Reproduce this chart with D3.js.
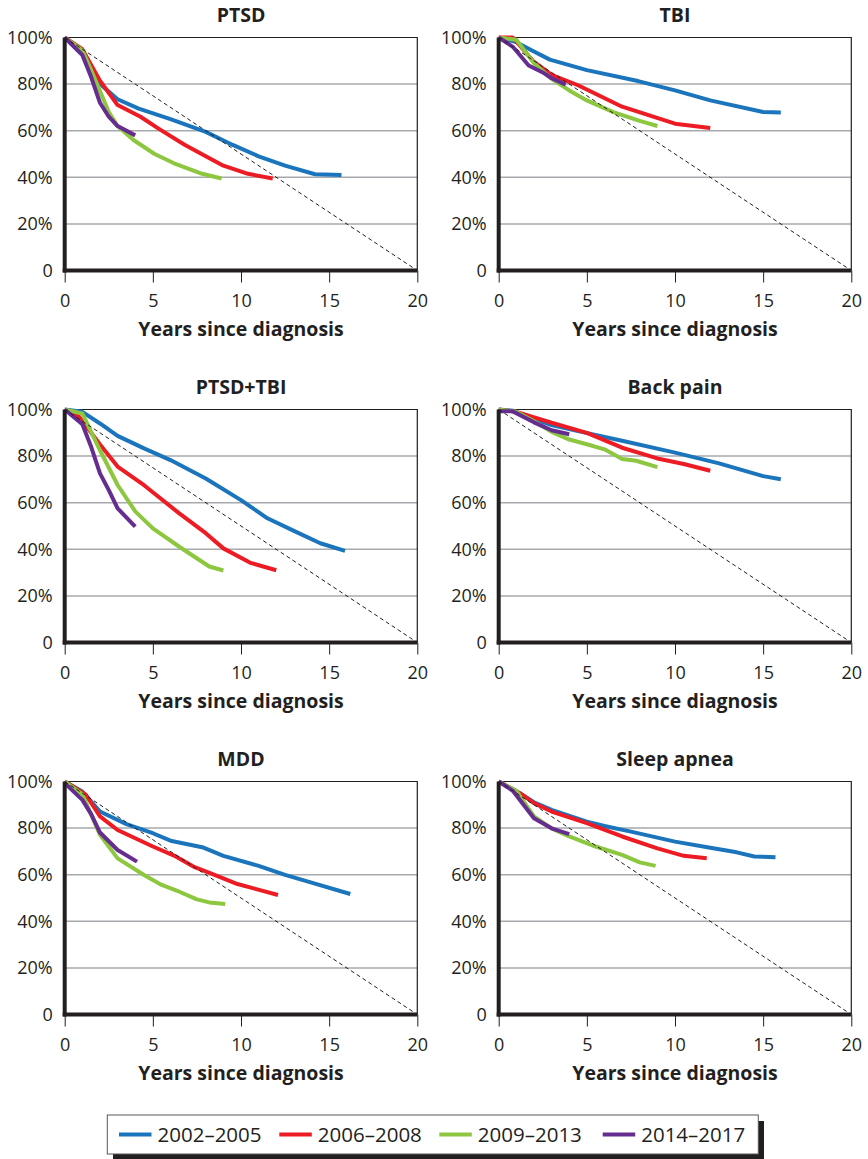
<!DOCTYPE html>
<html>
<head>
<meta charset="utf-8">
<script src="https://cdn.jsdelivr.net/npm/d3@7"></script>
<style>
  html, body { margin: 0; padding: 0; background: #fff; }
  svg { display: block; font-family: "Open Sans", "Noto Sans", sans-serif; }
</style>
</head>
<body>
<svg id="chart" width="868" height="1159"></svg>
<script>
// ---------------- DATA ----------------
const panelTitles = ["PTSD", "TBI", "PTSD+TBI", "Back pain", "MDD", "Sleep apnea"];
const seriesNames = ["2002\u20132005", "2006\u20132008", "2009\u20132013", "2014\u20132017"];
const xTicks = [0, 5, 10, 15, 20];
const yTicks = [0, 20, 40, 60, 80, 100];
const yTickLabels = ["0", "20%", "40%", "60%", "80%", "100%"];
const xAxisTitle = "Years since diagnosis";

// [years since diagnosis, % remaining]
const ptsd_2002 = [[0,100],[1,94.5],[2,80],[3,73.5],[4.2,69.5],[6,65],[8,59.5],[9.5,54],[11,49],[12.5,45],[14.2,41.3],[15.7,41]];
const ptsd_2006 = [[0,100],[1,95],[2,81.5],[3,71],[4.3,66],[5.3,61],[6.8,54],[8,49],[9,45],[10.4,41.5],[11.8,39.5]];
const ptsd_2009 = [[0,100],[1,94.5],[1.5,86],[2,77],[2.5,68],[3,62],[3.9,56],[5.1,50],[6.2,46],[7.8,41.5],[8.9,39.5]];
const ptsd_2014 = [[0,100],[1,92.5],[1.5,83],[2,72],[2.5,66],[3,62],[4,58]];

const tbi_2002 = [[0,100],[1,98],[2,94],[2.9,90.5],[5,86],[7.9,81.3],[10,77.3],[12,73],[15,68],[16,67.8]];
const tbi_2006 = [[0,100],[0.8,100],[2,89.5],[3,84],[4.5,79.5],[7,70.3],[10,63],[12,61.2]];
const tbi_2009 = [[0,100],[1,99],[2,89],[3,82.3],[4,77.3],[5,73],[6.5,68],[8,64.2],[9,62]];
const tbi_2014 = [[0,100],[0.8,96],[1.7,88],[2.5,85],[3,82.5],[3.8,79.8]];

const pt_2002 = [[0,100],[1,99],[2,94],[3,88.7],[4.5,83.3],[6,78.3],[8,70.4],[10,61.1],[11.5,53.3],[13,47.9],[14.5,42.6],[15.9,39.3]];
const pt_2006 = [[0,100],[0.8,97],[1.5,90],[2,85],[3,75.5],[4.5,67.5],[6.5,55.4],[8,46.9],[9,40.4],[10.5,34.3],[12,31]];
const pt_2009 = [[0,100],[1,98.3],[2,82.5],[3,67.6],[4,56.3],[5,49],[6.5,41.1],[8.2,32.6],[9,30.9]];
const pt_2014 = [[0,100],[1,93.7],[1.5,84],[2,72.6],[2.5,65.4],[3,57.6],[4,49.7]];

const back_2002 = [[0,100],[0.8,99.5],[2,96],[3,93.3],[4.5,90.7],[7,86.6],[10,81.5],[12.5,76.9],[15,71.4],[16,70.1]];
const back_2006 = [[0,100],[1,99],[3,94.3],[5,90],[7,83.6],[9,79],[10.5,76.6],[12,73.7]];
const back_2009 = [[0,100],[1,99],[2,95],[3,90.4],[4,87.1],[5,85.1],[6,82.9],[7,78.8],[7.8,78],[9,75.3]];
const back_2014 = [[0,99.2],[0.8,99.2],[2,94.5],[3,91.1],[4,89.4]];

const mdd_2002 = [[0,100],[1,95.7],[2,87.1],[3.5,81.7],[5,77.8],[6,74.6],[7.8,71.8],[9,68.1],[11,63.8],[12.5,59.9],[14,56.6],[16.2,51.7]];
const mdd_2006 = [[0,100],[1.2,94.3],[2,85],[3,79.2],[5,72.1],[6.2,68.2],[7.3,63.5],[8.5,59.9],[9.8,56],[12.1,51.3]];
const mdd_2009 = [[0,100],[1,94.5],[2,77.1],[3,67],[4.5,59.9],[5.5,55.6],[6.5,52.7],[7.5,49.4],[8.2,48.1],[9.1,47.4]];
const mdd_2014 = [[0,99.3],[1,92.1],[1.5,86],[2,78.1],[3,70.6],[4.1,65.6]];

const sleep_2002 = [[0,100],[1.2,95],[2,91.1],[3,87.8],[5,82.8],[6,80.9],[7.5,78.5],[10,74.2],[12,71.6],[13.5,69.6],[14.5,67.8],[15.7,67.5]];
const sleep_2006 = [[0,100],[1.2,95],[2,90.7],[3,87.1],[5,82.1],[7,76.4],[9,71.3],[10.5,68.1],[11.8,67.1]];
const sleep_2009 = [[0,100],[1,96],[2,85],[3,79.9],[4,76.4],[5.5,72.1],[7,68.5],[8,65.3],[8.9,63.8]];
const sleep_2014 = [[0,100],[0.8,96],[2,84.2],[3,79.9],[4,77.4]];

const diagonal = [[0,100],[20,0]];

const panelSeries = [
  [ptsd_2002, ptsd_2006, ptsd_2009, ptsd_2014],
  [tbi_2002, tbi_2006, tbi_2009, tbi_2014],
  [pt_2002, pt_2006, pt_2009, pt_2014],
  [back_2002, back_2006, back_2009, back_2014],
  [mdd_2002, mdd_2006, mdd_2009, mdd_2014],
  [sleep_2002, sleep_2006, sleep_2009, sleep_2014]
];

// ---------------- STYLE / LAYOUT ----------------
const colors = ["#1b75bc", "#ed1c24", "#8dc63f", "#662d91"];
const ink = "#231f20";
const colLeft = [64.7, 498.7];
const rowTop = [37.5, 409.5, 781.5];
const plotW = 352.6, plotH = 233;

const svg = d3.select("#chart");

const x = d3.scaleLinear().domain([0, 20]).range([0, plotW]);
const y = d3.scaleLinear().domain([0, 100]).range([plotH, 0]);
const line = d3.line().x(d => x(d[0])).y(d => y(d[1])).curve(d3.curveLinear);

panelTitles.forEach((title, i) => {
  const col = i % 2, row = Math.floor(i / 2);
  const g = svg.append("g").attr("transform", `translate(${colLeft[col]},${rowTop[row]})`);

  // gridlines
  g.selectAll("line.grid").data(yTicks.filter(t => t > 0 && t < 100)).join("line")
    .attr("class", "grid")
    .attr("x1", 0).attr("x2", plotW)
    .attr("y1", d => y(d)).attr("y2", d => y(d))
    .attr("stroke", "#a7a9ac").attr("stroke-width", 1.5);

  // top & right border
  g.append("path")
    .attr("d", `M0,${y(100)}H${x(20)}V${y(0)}`)
    .attr("fill", "none").attr("stroke", ink).attr("stroke-width", 1.2);

  // x axis
  const xa = g.append("g").attr("transform", `translate(0,${plotH})`)
    .call(d3.axisBottom(x).tickValues(xTicks).tickSize(12).tickPadding(12).tickSizeOuter(0));
  xa.select(".domain").remove();
  xa.selectAll(".tick line").attr("stroke", ink).attr("stroke-width", 1);
  xa.selectAll(".tick text").attr("fill", ink).style("font-size", "18px")
    .style("font-family", "'Open Sans', sans-serif");

  // y axis
  const ya = g.append("g")
    .call(d3.axisLeft(y).tickValues(yTicks).tickSize(0).tickPadding(12)
      .tickFormat((d, k) => yTickLabels[yTicks.indexOf(d)]));
  ya.select(".domain").remove();
  ya.selectAll(".tick text").attr("fill", ink).style("font-size", "18px")
    .style("font-family", "'Open Sans', sans-serif");

  // series
  panelSeries[i].forEach((s, k) => {
    g.append("path").datum(s)
      .attr("d", line)
      .attr("fill", "none")
      .attr("stroke", colors[k])
      .attr("stroke-width", 4)
      .attr("stroke-linejoin", "round");
  });

  // diagonal reference
  g.append("path").datum(diagonal)
    .attr("d", line)
    .attr("fill", "none").attr("stroke", ink)
    .attr("stroke-width", 1).attr("stroke-dasharray", "4,3");

  // thick axes lines
  g.append("line").attr("x1", 0).attr("x2", 0).attr("y1", y(100)).attr("y2", y(0) + 2)
    .attr("stroke", ink).attr("stroke-width", 4);
  g.append("line").attr("x1", -2).attr("x2", x(20)).attr("y1", y(0)).attr("y2", y(0))
    .attr("stroke", ink).attr("stroke-width", 4);

  // title
  g.append("text").attr("x", plotW / 2).attr("y", -16)
    .attr("text-anchor", "middle").attr("fill", ink)
    .style("font-size", "19.5px").style("font-weight", "bold")
    .text(title);

  // x axis title
  g.append("text").attr("x", plotW / 2).attr("y", plotH + 65)
    .attr("text-anchor", "middle").attr("fill", ink)
    .style("font-size", "19.5px").style("font-weight", "bold")
    .text(xAxisTitle);
});

// ---------------- LEGEND ----------------
const lg = svg.append("g");
lg.append("rect").attr("x", 113).attr("y", 1121).attr("width", 651).attr("height", 39).attr("fill", ink);
lg.append("rect").attr("x", 107.3).attr("y", 1115).attr("width", 651).attr("height", 39)
  .attr("fill", "#fff").attr("stroke", "#58595b").attr("stroke-width", 1);
const legX = [119, 279.3, 439.3, 602.7];
seriesNames.forEach((name, k) => {
  lg.append("line").attr("x1", legX[k]).attr("x2", legX[k] + 32.5)
    .attr("y1", 1134.5).attr("y2", 1134.5)
    .attr("stroke", colors[k]).attr("stroke-width", 4);
  lg.append("text").attr("x", legX[k] + 38.5).attr("y", 1142)
    .attr("fill", ink).style("font-size", "20.5px").text(name);
});
</script>
</body>
</html>
